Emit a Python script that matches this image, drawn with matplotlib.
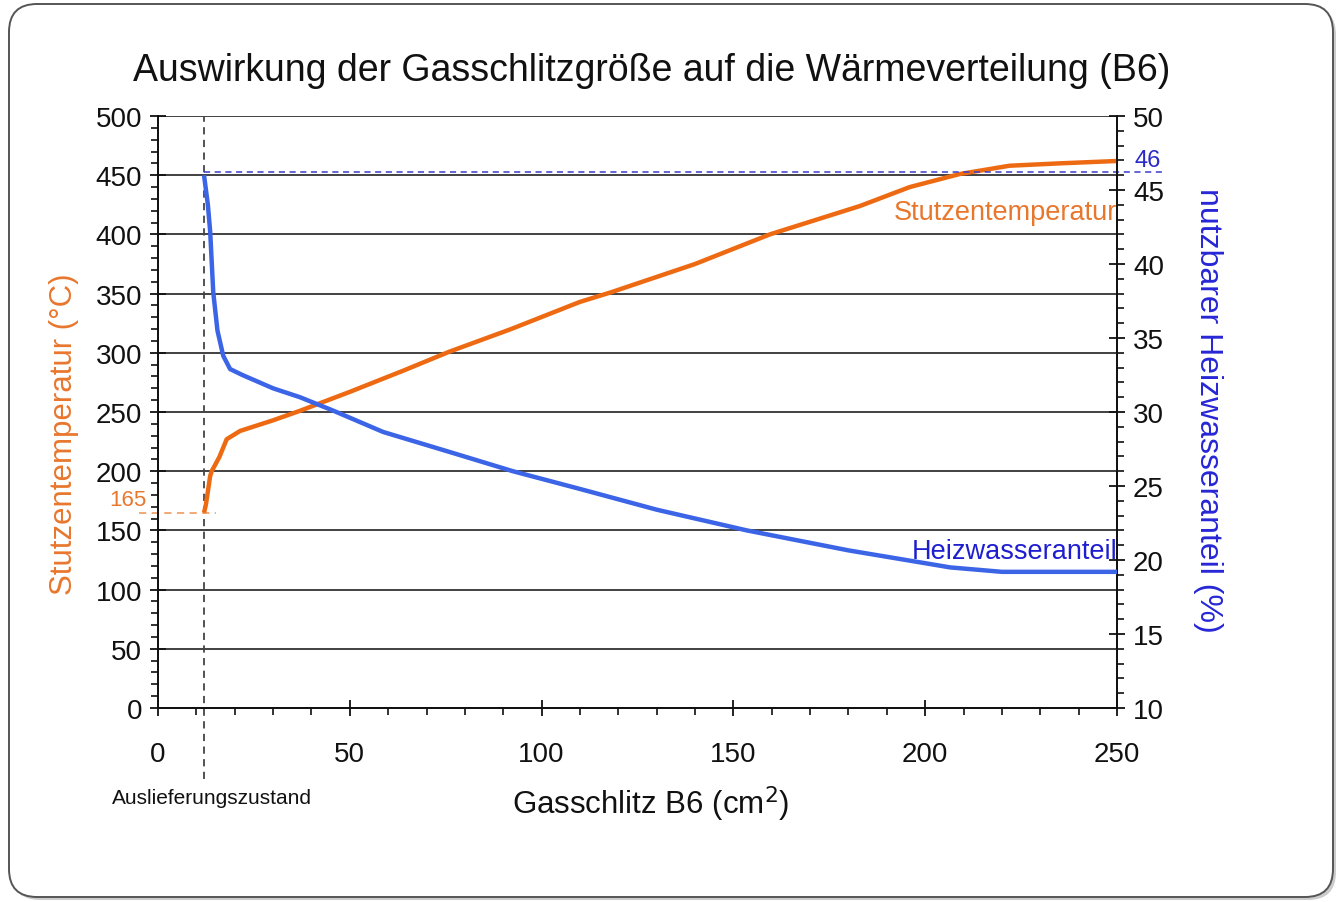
import matplotlib
matplotlib.use("Agg")
import matplotlib.pyplot as plt
from matplotlib.patches import FancyBboxPatch
from matplotlib.ticker import MultipleLocator

plt.rcParams['font.family'] = ['Liberation Sans', 'DejaVu Sans']

# Gasschlitz B6 (cm^2) vs. Stutzentemperatur (degC)
temp_x = [12, 12.5, 13.6, 14, 16, 17.9, 21.4, 30, 37, 50, 64, 76, 92, 110, 118,
          140, 159.5, 183, 196, 209, 222, 235, 250]
temp_y = [165, 172, 196, 200, 212, 227, 234, 243, 251, 267, 285, 301, 320, 343, 351,
          375, 400, 424, 440, 451, 458, 460, 462]

# Gasschlitz B6 (cm^2) vs. nutzbarer Heizwasseranteil (%)
share_x = [12, 13, 13.6, 14.4, 15.5, 17, 18.8, 22, 30, 37, 45.6, 58.7, 76, 92.5,
           110, 130, 153.5, 180, 195, 206.5, 220, 250]
share_y = [46, 44, 42.2, 38.1, 35.5, 33.8, 32.9, 32.5, 31.6, 31.0, 30.1, 28.65, 27.3,
           26.0, 24.8, 23.4, 22.0, 20.65, 20.0, 19.5, 19.2, 19.2]

delivery_x = 12      # Auslieferungszustand
delivery_temp = 165
delivery_share = 46

ORANGE = "#EE6A12"
ORANGE_TXT = "#E8772E"
BLUE = "#3B64E6"
BLUE_TXT = "#2626D6"
GRID = "#333333"

fig = plt.figure(figsize=(13.38, 9.03), dpi=100)

# rounded frame around the chart
bg = fig.add_axes([0, 0, 1, 1], zorder=-5)
bg.set_xlim(0, 1338)
bg.set_ylim(0, 903)
bg.axis("off")
bg.add_patch(FancyBboxPatch((12, 2), 1324, 893, boxstyle="round,pad=0,rounding_size=28",
                            facecolor="#9a9a9a", edgecolor="none", alpha=0.5))
bg.add_patch(FancyBboxPatch((9, 5), 1324, 893, boxstyle="round,pad=0,rounding_size=28",
                            facecolor="white", edgecolor="#555555", linewidth=1.4))

ax = fig.add_axes([158 / 1338, 1 - 709 / 903, (1117 - 158) / 1338, (709 - 117) / 903])
ax.patch.set_alpha(0)
ax2 = ax.twinx()

# left axis: temperature
ax.set_xlim(0, 250)
ax.set_ylim(0, 500)
ax.yaxis.set_major_locator(MultipleLocator(50))
ax.yaxis.set_minor_locator(MultipleLocator(10))
ax.xaxis.set_major_locator(MultipleLocator(50))
ax.xaxis.set_minor_locator(MultipleLocator(10))
ax.grid(axis="y", which="major", color=GRID, linewidth=1.3)
ax.set_axisbelow(True)
ax.spines["top"].set_visible(False)
ax2.spines["top"].set_visible(False)
for a in (ax, ax2):
    for s in ["left", "right", "bottom"]:
        a.spines[s].set_color("#111111")
        a.spines[s].set_linewidth(1.3)

ax.tick_params(axis="both", which="major", direction="inout", length=11, width=1.3,
               labelsize=20, colors="#111111")
ax.tick_params(axis="both", which="minor", direction="out", length=5, width=1.2,
               colors="#111111")
ax.tick_params(axis="x", which="major", pad=18)
ax.tick_params(axis="y", which="major", pad=6)

ax.plot(temp_x, temp_y, color=ORANGE, linewidth=3.2, solid_capstyle="butt", zorder=3)

# right axis: share
ax2.set_ylim(10, 50)
ax2.yaxis.set_major_locator(MultipleLocator(5))
ax2.yaxis.set_minor_locator(MultipleLocator(1))
ax2.tick_params(axis="y", which="major", direction="inout", length=11, width=1.3,
                labelsize=20, colors="#111111", pad=6)
ax2.tick_params(axis="y", which="minor", direction="out", length=5, width=1.2,
                colors="#111111")
ax2.plot(share_x, share_y, color=BLUE, linewidth=3.2, solid_capstyle="butt", zorder=3)

# reference markers
ax.plot([delivery_x, delivery_x], [-60, 500], color="#444444", linestyle=(0, (4, 3)),
        linewidth=1.3, clip_on=False, zorder=2)
ax.plot([-5, delivery_x + 3], [delivery_temp, delivery_temp], color="#F0A36A",
        linestyle=(0, (4, 3)), linewidth=1.3, clip_on=False, zorder=2)
ax.text(-3, delivery_temp + 2, str(delivery_temp), color=ORANGE_TXT, fontsize=16,
        ha="right", va="bottom")
ax2.plot([delivery_x, 262], [delivery_share + 0.2, delivery_share + 0.2], color="#3A3ACC",
         linestyle=(0, (4, 3)), linewidth=1.1, clip_on=False, zorder=2)
ax2.text(258, delivery_share + 0.3, str(delivery_share), color="#2A2AC8", fontsize=17,
         ha="center", va="bottom")

ax.text(250, 419, "Stutzentemperatur", color=ORANGE_TXT, fontsize=19.5,
        ha="right", va="center")
ax2.text(250, 20.6, "Heizwasseranteil", color="#1E1ED0", fontsize=19.5,
         ha="right", va="center")

ax.text(delivery_x + 2, -76, "Auslieferungszustand", color="#111111", fontsize=15,
        ha="center", va="center")

ax.set_xlabel("Gasschlitz B6 (cm$^2$)", fontsize=22.5, color="#111111")
ax.xaxis.set_label_coords(0.514, -0.128)
ax.set_ylabel("Stutzentemperatur (°C)", fontsize=22.5, color=ORANGE_TXT)
ax.yaxis.set_label_coords(-0.082, 0.465)
ax2.set_ylabel("nutzbarer Heizwasseranteil (%)", fontsize=23, color=BLUE_TXT,
               rotation=-90, va="center")
ax2.yaxis.set_label_coords(1.095, 0.505)

fig.text(652 / 1338, 1 - 71 / 903,
         "Auswirkung der Gasschlitzgröße auf die Wärmeverteilung (B6)",
         fontsize=27, color="#111111", ha="center", va="center")

fig.savefig("out.png", dpi=100)
